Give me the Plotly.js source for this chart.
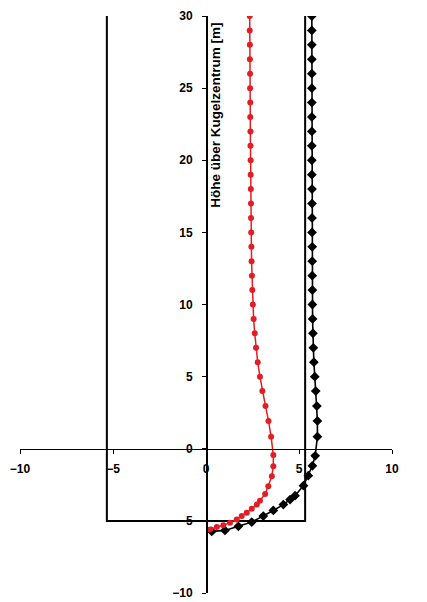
<!DOCTYPE html>
<html>
<head>
<meta charset="utf-8">
<script src="https://cdn.plot.ly/plotly-3.0.1.min.js"></script>
<style>html,body{margin:0;padding:0;background:#fff;}#chart{width:427px;height:602px;}</style>
</head>
<body>
<div id="chart"></div>
<script>
// Red series (circles)
const redY = [30,29,28,27,26,25,24,23,22,21,20,19,18,17,16,15,14,13,12,11,10,9,8,7,6,5,4,
  2.96,1.93,0.84,-0.44,-1.22,-1.91,-2.6,-3.13,-3.6,-3.87,-4.16,-4.44,-4.67,-4.9,-5.13,-5.31,-5.43,-5.59];
const redX = [2.35,2.35,2.36,2.36,2.37,2.37,2.38,2.38,2.39,2.39,2.40,2.40,2.41,2.42,2.42,2.43,2.44,2.45,2.47,2.49,2.52,2.56,2.62,2.69,2.78,2.90,3.03,
  3.2,3.36,3.5,3.62,3.62,3.54,3.35,3.18,2.9,2.73,2.46,2.19,1.92,1.65,1.29,0.93,0.58,0.22];
// Black series (diamonds)
const blackY = [30,29,28,27,26,25,24,23,22,21,20,19,18,17,16,15,14,13,12,11,10,9,8,7,6,5,4,
  2.96,1.93,0.84,-0.49,-1.18,-1.87,-2.56,-3.25,-3.52,-3.87,-4.28,-4.67,-5.08,-5.38,-5.66,-5.73];
const blackX = [5.69,5.69,5.69,5.69,5.69,5.69,5.69,5.69,5.69,5.69,5.69,5.69,5.70,5.70,5.70,5.70,5.71,5.71,5.71,5.72,5.72,5.73,5.75,5.77,5.80,5.85,5.90,
  5.96,5.99,5.99,5.87,5.72,5.5,5.24,4.79,4.52,4.16,3.62,3.08,2.46,1.74,1.02,0.31];
// Rectangle outline
const rectX = [-5.33,-5.33,5.33,5.33];
const rectY = [30,-5,-5,30];
// Axis labels
const xTitle = 'Radius [m]';
const yTitle = 'Höhe über Kugelzentrum [m]';
const xTicks = [-10,-5,0,5,10];
const yTicks = [-10,-5,0,5,10,15,20,25,30];

const fam = 'Liberation Sans, Arial, sans-serif';
const tickFont = {family:fam, size:12, color:'#000', weight:'bold'};
const xTitleFont = {family:fam, size:12, color:'#000', weight:'bold'};
const yTitleFont = {family:fam, size:13.5, color:'#000', weight:'bold'};

const data = [
  {x:rectX, y:rectY, mode:'lines', line:{color:'#000', width:2}, hoverinfo:'skip'},
  {x:blackX, y:blackY, mode:'lines+markers', line:{color:'#000', width:1.6},
   marker:{symbol:'diamond', size:7.5, color:'#000'}},
  {x:redX, y:redY, mode:'lines+markers', line:{color:'rgb(226,30,36)', width:1.5},
   marker:{symbol:'circle', size:6, color:'rgb(226,30,36)'}}
];

const layout = {
  width:427, height:602,
  margin:{l:20, r:35, t:16, b:9},
  paper_bgcolor:'#fff', plot_bgcolor:'#fff',
  showlegend:false,
  font:tickFont,
  xaxis:{range:[-10,10], tickvals:xTicks, showgrid:false, zeroline:false,
    showline:true, linecolor:'#000', linewidth:1.5, ticks:'outside', ticklen:4, tickcolor:'#000', tickwidth:1,
    anchor:'free', position:0.25, tickfont:tickFont, ticklabelstandoff:4, ticklabeloverflow:'allow'},
  yaxis:{range:[-10,30], tickvals:yTicks, showgrid:false, zeroline:false,
    showline:true, linecolor:'#000', linewidth:1.5, ticks:'outside', ticklen:4, tickcolor:'#000', tickwidth:1,
    anchor:'free', position:0.5, tickfont:tickFont, ticklabelstandoff:7, ticklabeloverflow:'allow'},
  annotations:[
    {text:xTitle, x:11.75, y:-3.6, xref:'x', yref:'y', xanchor:'right', yanchor:'middle', showarrow:false, font:xTitleFont},
    {text:yTitle, x:0.5, y:23.1, xref:'x', yref:'y', xanchor:'center', yanchor:'middle', textangle:-90, showarrow:false, font:yTitleFont}
  ]
};
Plotly.newPlot('chart', data, layout, {displayModeBar:false, staticPlot:true});
</script>
</body>
</html>
